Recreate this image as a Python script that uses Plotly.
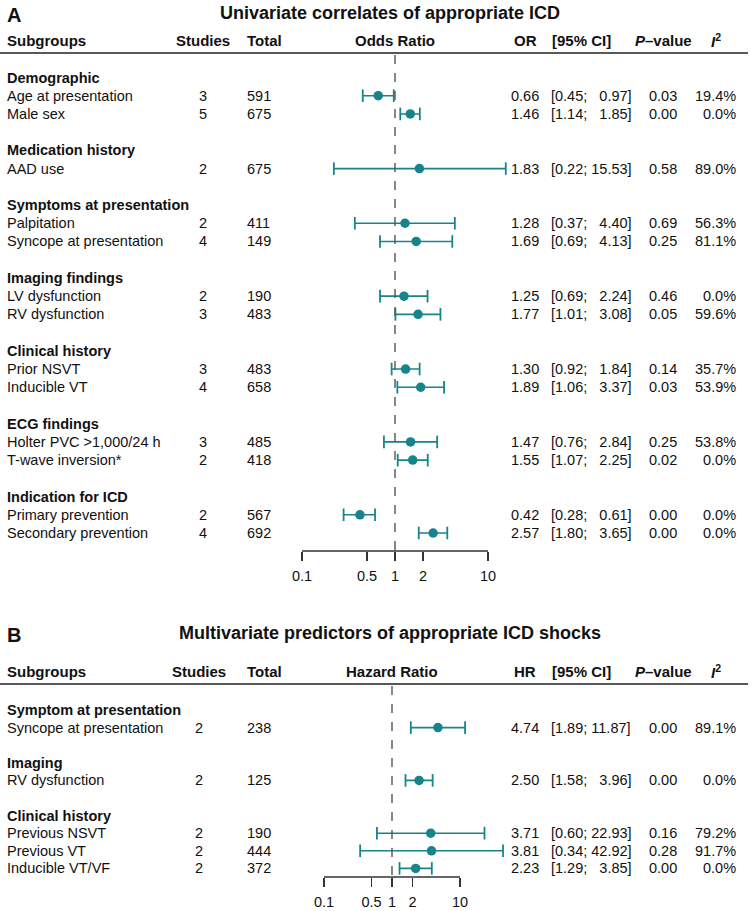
import plotly.graph_objects as go

W, H = 750, 911

# ---------------- Panel A data ----------------
A_groups = ["Demographic", "Medication history", "Symptoms at presentation",
            "Imaging findings", "Clinical history", "ECG findings", "Indication for ICD"]
A_group_sizes = [2, 1, 2, 2, 2, 2, 2]
A_labels = ["Age at presentation", "Male sex", "AAD use", "Palpitation",
            "Syncope at presentation", "LV dysfunction", "RV dysfunction",
            "Prior NSVT", "Inducible VT", "Holter PVC >1,000/24 h",
            "T-wave inversion*", "Primary prevention", "Secondary prevention"]
A_studies = [3, 5, 2, 2, 4, 2, 3, 3, 4, 3, 2, 2, 4]
A_total = [591, 675, 675, 411, 149, 190, 483, 483, 658, 485, 418, 567, 692]
A_est = [0.66, 1.46, 1.83, 1.28, 1.69, 1.25, 1.77, 1.30, 1.89, 1.47, 1.55, 0.42, 2.57]
A_lo = [0.45, 1.14, 0.22, 0.37, 0.69, 0.69, 1.01, 0.92, 1.06, 0.76, 1.07, 0.28, 1.80]
A_hi = [0.97, 1.85, 15.53, 4.40, 4.13, 2.24, 3.08, 1.84, 3.37, 2.84, 2.25, 0.61, 3.65]
A_p = [0.03, 0.00, 0.58, 0.69, 0.25, 0.46, 0.05, 0.14, 0.03, 0.25, 0.02, 0.00, 0.00]
A_i2 = [19.4, 0.0, 89.0, 56.3, 81.1, 0.0, 59.6, 35.7, 53.9, 53.8, 0.0, 0.0, 0.0]

# ---------------- Panel B data ----------------
B_groups = ["Symptom at presentation", "Imaging", "Clinical history"]
B_group_sizes = [1, 1, 3]
B_labels = ["Syncope at presentation", "RV dysfunction", "Previous NSVT",
            "Previous VT", "Inducible VT/VF"]
B_studies = [2, 2, 2, 2, 2]
B_total = [238, 125, 190, 444, 372]
B_est = [4.74, 2.50, 3.71, 3.81, 2.23]
B_lo = [1.89, 1.58, 0.60, 0.34, 1.29]
B_hi = [11.87, 3.96, 22.93, 42.92, 3.85]
B_p = [0.00, 0.00, 0.16, 0.28, 0.00]
B_i2 = [89.1, 0.0, 79.2, 91.7, 0.0]

tick_vals = [0.1, 0.5, 1, 2, 10]
tick_text = ["0.1", "0.5", "1", "2", "10"]

TEAL = "#15858b"
FONT = "Liberation Sans, Arial, Helvetica, sans-serif"
FS = 14.5

fig = go.Figure()
annotations = []
shapes = []


def px(x):
    return x / W


def py(y):
    return 1 - y / H


def layout_rows(sizes):
    heads, items = [], []
    r = 0
    for n in sizes:
        heads.append(r)
        items.extend(range(r + 1, r + 1 + n))
        r += n + 2
    return heads, items


def fmt_ci(lo, hi):
    s = f"{hi:.2f}"
    pad = "\u2007" * (5 - len(s))
    return f"[{lo:.2f}; {pad}{s}]"


def add_text(text, x, y, yref, anchor="left", size=FS, bold=False):
    annotations.append(dict(
        text=(f"<b>{text}</b>" if bold else text), x=px(x), xref="paper",
        y=y, yref=yref, xanchor=anchor, yanchor="middle", showarrow=False,
        font=dict(family=FONT, size=size, color="#111")))


panels = [
    dict(key="", groups=A_groups, sizes=A_group_sizes, labels=A_labels,
         studies=A_studies, total=A_total, est=A_est, lo=A_lo, hi=A_hi,
         p=A_p, i2=A_i2, letter="A",
         title="Univariate correlates of appropriate ICD", ratio="Odds Ratio",
         eff="OR", row0=77.5, step=18.22, head_px=40, title_px=13, line_px=53,
         axis_px=551, center=395, decade=93, span=1.5, studies_x=203),
    dict(key="2", groups=B_groups, sizes=B_group_sizes, labels=B_labels,
         studies=B_studies, total=B_total, est=B_est, lo=B_lo, hi=B_hi,
         p=B_p, i2=B_i2, letter="B",
         title="Multivariate predictors of appropriate ICD shocks",
         ratio="Hazard Ratio", eff="HR", row0=710, step=17.6, head_px=671,
         title_px=633, line_px=684, axis_px=877, center=392, decade=68,
         span=1.7, studies_x=199),
]

layout_axes = {}
for P in panels:
    k = P["key"]
    xname = "xaxis" + k
    yname = "yaxis" + k
    yref = "y" + k
    heads, items = layout_rows(P["sizes"])

    # CI lines
    lx, ly = [], []
    for r, lo, hi in zip(items, P["lo"], P["hi"]):
        lx += [lo, hi, None]
        ly += [r, r, None]
    fig.add_trace(go.Scatter(x=lx, y=ly, mode="lines", xaxis="x" + k, yaxis=yref,
                             line=dict(color=TEAL, width=1.6), hoverinfo="skip",
                             showlegend=False))
    # caps
    fig.add_trace(go.Scatter(x=P["lo"] + P["hi"], y=items + items, mode="markers",
                             xaxis="x" + k, yaxis=yref, cliponaxis=False,
                             marker=dict(symbol="line-ns", size=9,
                                         line=dict(color=TEAL, width=1.8)),
                             hoverinfo="skip", showlegend=False))
    # points
    fig.add_trace(go.Scatter(x=P["est"], y=items, mode="markers",
                             xaxis="x" + k, yaxis=yref, cliponaxis=False,
                             marker=dict(symbol="circle", size=9.5, color=TEAL),
                             showlegend=False))

    c, d, s = P["center"], P["decade"], P["span"]
    layout_axes[xname] = dict(
        type="log", range=[-s, s], domain=[px(c - s * d), px(c + s * d)],
        anchor="free", position=py(P["axis_px"]), showgrid=False, zeroline=False,
        showline=False, tickvals=tick_vals, ticktext=tick_text, ticks="outside",
        ticklen=9, tickwidth=1.3, tickcolor="#333", ticklabelstandoff=3,
        tickfont=dict(family=FONT, size=FS, color="#111"), fixedrange=True)
    r0 = P["row0"]
    layout_axes[yname] = dict(
        range=[(H - r0) / P["step"], -r0 / P["step"]],
        domain=[0, 1], visible=False, fixedrange=True,
        **({"anchor": "free", "overlaying": "y", "position": 0} if k else {}))

    # axis baseline from min tick to max tick
    shapes.append(dict(type="line", xref="x" + k, yref="paper",
                       x0=min(tick_vals), x1=max(tick_vals),
                       y0=py(P["axis_px"]), y1=py(P["axis_px"]),
                       line=dict(color="#333", width=1.3)))
    # dashed null line
    shapes.append(dict(type="line", xref="x" + k, yref="paper", x0=1, x1=1,
                       y0=py(P["line_px"] + 2), y1=py(P["axis_px"]),
                       line=dict(color="#555", width=1.4, dash="dash")))
    # header underline
    shapes.append(dict(type="line", xref="paper", yref="paper", x0=0, x1=px(748),
                       y0=py(P["line_px"]), y1=py(P["line_px"]),
                       line=dict(color="#222", width=1.4)))

    # titles
    add_text(P["letter"], 5, py(P["title_px"] + 2), "paper", "left", 20, True)
    add_text(P["title"], 390, py(P["title_px"]), "paper", "center", 18, True)
    # column headers
    hy = py(P["head_px"])
    add_text("Subgroups", 5, hy, "paper", "left", 15, True)
    add_text("Studies", P["studies_x"], hy, "paper", "center", 15, True)
    add_text("Total", 245, hy, "paper", "left", 15, True)
    add_text(P["ratio"], c, hy, "paper", "center", 15, True)
    add_text(P["eff"], 525, hy, "paper", "center", 15, True)
    add_text("[95% CI]", 550, hy, "paper", "left", 15, True)
    add_text("<i>P</i>–value", 663, hy, "paper", "center", 15, True)
    add_text("<i>I</i><sup>2</sup>", 716, hy, "paper", "center", 15, True)

    # group headers
    for r, g in zip(heads, P["groups"]):
        add_text(g, 5, r, yref, "left", FS, True)
    # rows
    for i, r in enumerate(items):
        add_text(P["labels"][i], 5, r, yref, "left")
        add_text(str(P["studies"][i]), P["studies_x"], r, yref, "center")
        add_text(str(P["total"][i]), 245, r, yref, "left")
        add_text(f"{P['est'][i]:.2f}", 525, r, yref, "center")
        add_text(fmt_ci(P["lo"][i], P["hi"][i]), 549, r, yref, "left")
        add_text(f"{P['p'][i]:.2f}", 663, r, yref, "center")
        add_text(f"{P['i2'][i]:.1f}%", 738, r, yref, "right")

fig.update_layout(
    width=W, height=H, margin=dict(l=0, r=0, t=0, b=0),
    paper_bgcolor="white", plot_bgcolor="rgba(0,0,0,0)",
    annotations=annotations, shapes=shapes, showlegend=False,
    font=dict(family=FONT, size=FS, color="#111"),
    **layout_axes)

# remove the browser's default 8 px body margin so the figure fills the window
fig.write_html(
    "out.html",
    config={"displayModeBar": False, "staticPlot": True},
    post_script="document.body.style.margin='0';document.body.style.overflow='hidden';")
